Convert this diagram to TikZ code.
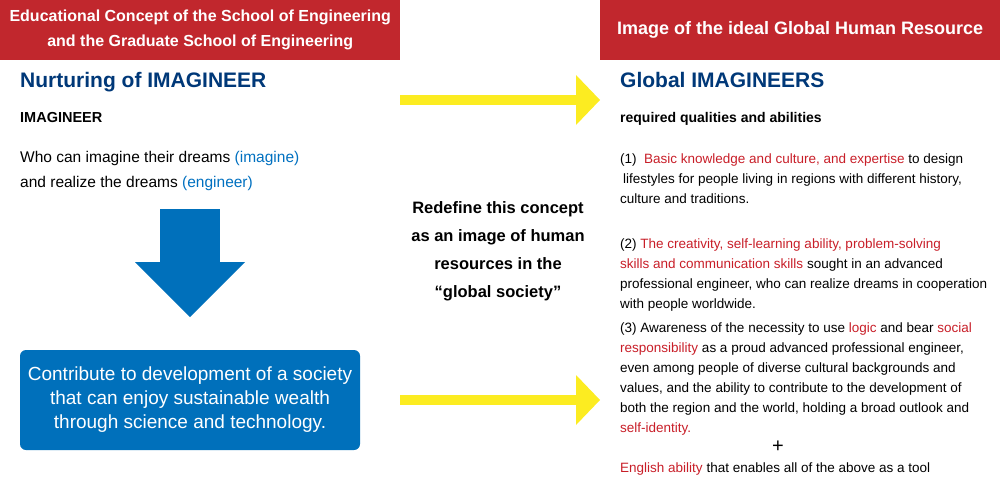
\documentclass[tikz,border=0pt]{standalone}
\usepackage{fontspec}
\setmainfont{Liberation Sans}
\usepackage{xcolor}
\usepackage{tikz}
\usetikzlibrary{arrows.meta}

\definecolor{hdrred}{RGB}{193,39,45}
\definecolor{txtred}{RGB}{200,30,40}
\definecolor{navy}{RGB}{0,56,120}
\definecolor{skyblue}{RGB}{0,112,192}
\definecolor{boxblue}{RGB}{0,112,187}
\definecolor{arrowyellow}{RGB}{252,236,33}

\begin{document}
\begin{tikzpicture}[x=1pt, y=-1pt,
    header/.style={fill=hdrred, text=white, minimum width=400pt, minimum height=60pt, inner sep=0pt, align=center, anchor=north west},
    title/.style={text=navy, inner sep=0pt, anchor=base west, font=\bfseries\fontsize{21}{25}\selectfont},
    body/.style={inner sep=0pt, anchor=base west, align=left, font=\fontsize{13.5}{20}\selectfont},
    yellowarrow/.style={arrowyellow, line width=10pt, -{Triangle[length=24pt, width=50pt, line width=0pt]}},
    bluearrow/.style={boxblue, line width=60pt, -{Triangle[length=55pt, width=110pt, line width=0pt]}}]
  \useasboundingbox (0,0) rectangle (1000,500);

  % left column
  \node[header, font=\bfseries\fontsize{16}{25}\selectfont] (hdrleft) at (0,0)
    {Educational Concept of the School of Engineering\\and the Graduate School of Engineering};
  \node[title] (nurture) at (20,88) {Nurturing of IMAGINEER};
  \node[inner sep=0pt, anchor=base west, font=\bfseries\fontsize{14.5}{18}\selectfont] (imagineer) at (20,122) {IMAGINEER};
  % multi-line nodes: base = last line
  \node[body, font=\fontsize{15.5}{25}\selectfont] (dreams) at (20,187)
    {Who can imagine their dreams \textcolor{skyblue}{(imagine)}\\and realize the dreams \textcolor{skyblue}{(engineer)}};

  \coordinate (dntop) at (190,209);
  \coordinate (dntip) at (190,317);
  \draw[bluearrow] (dntop) -- (dntip);

  \node[fill=boxblue, text=white, rounded corners=6pt, minimum width=340pt, minimum height=100pt, align=center,
        font=\fontsize{19}{24}\selectfont] (society) at (190,400)
    {Contribute to development of a society\\that can enjoy sustainable wealth\\through science and technology.};

  % middle
  \coordinate (topfrom) at (400,100);
  \coordinate (topto) at (600,100);
  \coordinate (botfrom) at (400,400);
  \coordinate (botto) at (600,400);
  \draw[yellowarrow] (topfrom) -- (topto);
  \draw[yellowarrow] (botfrom) -- (botto);

  \node[inner sep=0pt, anchor=base, align=center, font=\bfseries\fontsize{16.5}{28}\selectfont] (redefine) at (498,297)
    {Redefine this concept\\as an image of human\\resources in the\\``global society''};

  % right column
  \node[header, font=\bfseries\fontsize{18}{22}\selectfont] (hdrright) at (600,0) {Image of the ideal Global Human Resource};
  \node[title] (global) at (620,88) {Global IMAGINEERS};
  \node[inner sep=0pt, anchor=base west, font=\bfseries\fontsize{14}{18}\selectfont] (qualities) at (620,122) {required qualities and abilities};

  \node[body] (qone) at (620,203)
    {(1)\ \ \textcolor{txtred}{Basic knowledge and culture, and expertise} to design\\
     \hspace{3pt}lifestyles for people living in regions with different history,\\
     culture and traditions.};
  \node[body] (qtwo) at (620,308)
    {(2) \textcolor{txtred}{The creativity, self-learning ability, problem-solving}\\
     \textcolor{txtred}{skills and communication skills} sought in an advanced\\
     professional engineer, who can realize dreams in cooperation\\
     with people worldwide.};
  \node[body] (qthree) at (620,432)
    {(3) Awareness of the necessity to use \textcolor{txtred}{logic} and bear \textcolor{txtred}{social}\\
     \textcolor{txtred}{responsibility} as a proud advanced professional engineer,\\
     even among people of diverse cultural backgrounds and\\
     values, and the ability to contribute to the development of\\
     both the region and the world, holding a broad outlook and\\
     \textcolor{txtred}{self-identity.}};
  \node[font=\fontsize{20}{20}\selectfont, inner sep=0pt] (plus) at (778,447) {+};
  \node[body] (english) at (620,472) {\textcolor{txtred}{English ability} that enables all of the above as a tool};
\end{tikzpicture}
\end{document}
